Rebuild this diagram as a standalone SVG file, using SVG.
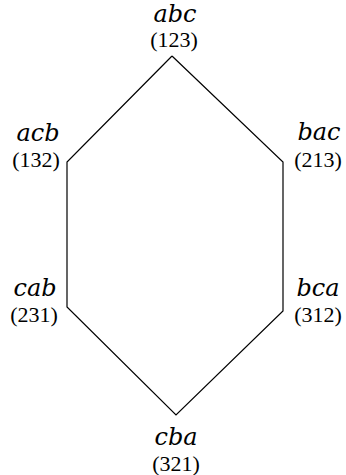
<svg xmlns="http://www.w3.org/2000/svg" width="346" height="475" viewBox="0 0 346 475">
<style>
.n{font-family:"DejaVu Serif","Liberation Serif",serif;font-style:italic;font-size:24px;text-anchor:middle;fill:#000}
.p{font-family:"Liberation Serif","DejaVu Serif",serif;font-size:22px;text-anchor:middle;fill:#000}
.e{fill:none;stroke:#000;stroke-width:1.2}
</style>
<rect width="346" height="475" fill="#fff"/>
<g id="connectors">
<polyline class="e" points="172,56 67,162 67,307 176,415 283,311 283,162 172,56"/>
</g>
<g id="abc"><text class="n" x="175" y="22">abc</text><text class="p" x="174" y="47">(123)</text></g>
<g id="acb"><text class="n" x="38" y="141">acb</text><text class="p" x="36" y="167">(132)</text></g>
<g id="bac"><text class="n" x="319" y="140">bac</text><text class="p" x="318" y="167">(213)</text></g>
<g id="cab"><text class="n" x="35" y="296">cab</text><text class="p" x="34" y="322">(231)</text></g>
<g id="bca"><text class="n" x="318" y="296">bca</text><text class="p" x="318" y="322">(312)</text></g>
<g id="cba"><text class="n" x="176" y="445">cba</text><text class="p" x="176" y="471">(321)</text></g>
</svg>
